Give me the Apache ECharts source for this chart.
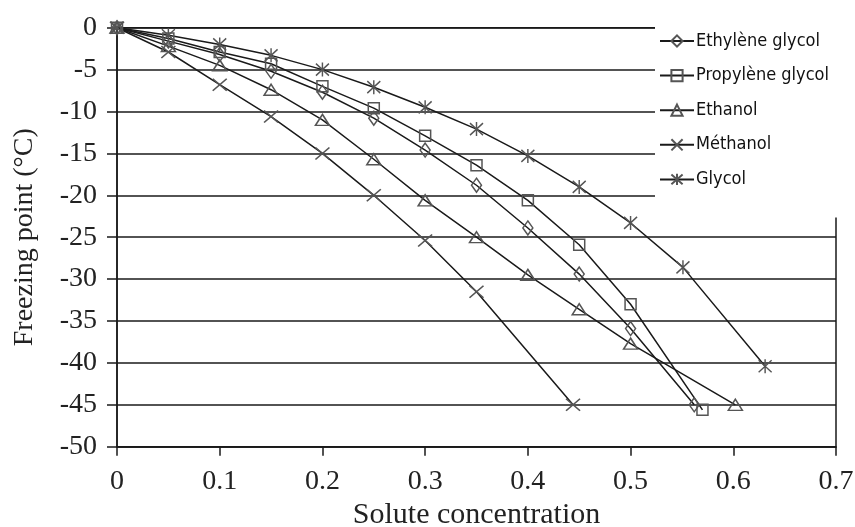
<!DOCTYPE html>
<html>
<head>
<meta charset="utf-8">
<script src="https://cdn.jsdelivr.net/npm/echarts@6/dist/echarts.min.js"></script>
<style>
html,body{margin:0;padding:0;background:#fff;}
#chart{width:855px;height:527px;}
</style>
</head>
<body>
<div id="chart"></div>
<script>
// ---- data ----
var seriesNames = ['Ethylène glycol', 'Propylène glycol', 'Ethanol', 'Méthanol', 'Glycol'];
var xTicks = [0, 0.1, 0.2, 0.3, 0.4, 0.5, 0.6, 0.7];
var yTicks = [0, -5, -10, -15, -20, -25, -30, -35, -40, -45, -50];

var ethyleneX = [0, 0.05, 0.1, 0.15, 0.2, 0.25, 0.3, 0.35, 0.4, 0.45, 0.5, 0.562];
var ethyleneY = [0, -1.6, -3.2, -5.2, -7.7, -10.8, -14.6, -18.8, -23.9, -29.4, -35.9, -45.0];

var propyleneX = [0, 0.05, 0.1, 0.15, 0.2, 0.25, 0.3, 0.35, 0.4, 0.45, 0.5, 0.57];
var propyleneY = [0, -1.3, -2.9, -4.3, -7.0, -9.6, -12.9, -16.4, -20.6, -25.9, -33.0, -45.6];

var ethanolX = [0, 0.05, 0.1, 0.15, 0.2, 0.25, 0.3, 0.35, 0.4, 0.45, 0.5, 0.602];
var ethanolY = [0, -2.2, -4.5, -7.4, -11.0, -15.7, -20.6, -25.0, -29.5, -33.6, -37.7, -45.0];

var methanolX = [0, 0.05, 0.1, 0.15, 0.2, 0.25, 0.3, 0.35, 0.444];
var methanolY = [0, -2.9, -6.8, -10.6, -15.0, -20.0, -25.4, -31.5, -45.0];

var glycolX = [0, 0.05, 0.1, 0.15, 0.2, 0.25, 0.3, 0.35, 0.4, 0.45, 0.5, 0.551, 0.631];
var glycolY = [0, -0.9, -2.0, -3.3, -5.0, -7.1, -9.5, -12.1, -15.3, -19.0, -23.3, -28.6, -40.4];

// ---- build ----
function pairs(xs, ys) { return xs.map(function (x, i) { return [x, ys[i]]; }); }

var serifFont = "'Liberation Serif', 'Times New Roman', serif";
var legendFont = "'Liberation Sans Narrow', 'DejaVu Sans Condensed', 'Liberation Sans', sans-serif";
var markerColor = '#555';
var lineColor = '#1a1a1a';

var symbols = [
  { symbol: 'diamond', size: [10, 14] },
  { symbol: 'rect', size: [11, 11] },
  { symbol: 'triangle', size: [14, 11] },
  { symbol: 'path://M0,0L14,12M14,0L0,12', size: [14, 12] },
  { symbol: 'path://M0,0L12,12M12,0L0,12M6,-1L6,13', size: [13, 14] }
];
var dataSets = [
  pairs(ethyleneX, ethyleneY),
  pairs(propyleneX, propyleneY),
  pairs(ethanolX, ethanolY),
  pairs(methanolX, methanolY),
  pairs(glycolX, glycolY)
];

var series = seriesNames.map(function (name, i) {
  return {
    name: name,
    type: 'line',
    data: dataSets[i],
    symbol: symbols[i].symbol,
    symbolSize: symbols[i].size,
    showAllSymbol: true,
    lineStyle: { color: lineColor, width: 1.5 },
    itemStyle: { color: 'rgba(255,255,255,0)', borderColor: markerColor, borderWidth: 1.5 },
    emphasis: { disabled: true },
    animation: false,
    z: 3
  };
});

var chart = echarts.init(document.getElementById('chart'), null, { renderer: 'canvas' });
chart.setOption({
  backgroundColor: '#fff',
  animation: false,
  grid: {
    left: 117, right: 19, top: 27.7, bottom: 80.3,
    outerBoundsMode: 'none',
    containLabel: false,
    show: true, borderColor: lineColor, borderWidth: 1.5, backgroundColor: 'transparent'
  },
  legend: {
    orient: 'vertical',
    left: 655,
    top: 14,
    padding: [17, 30, 28, 4],
    backgroundColor: '#fff',
    itemWidth: 34,
    itemHeight: 14,
    itemGap: 14.6,
    data: seriesNames,
    textStyle: { fontFamily: legendFont, fontSize: 18, color: '#111', lineHeight: 20, padding: [0, 0, 0, -3] },
    z: 10
  },
  xAxis: {
    type: 'value',
    min: xTicks[0],
    max: xTicks[xTicks.length - 1],
    interval: 0.1,
    name: 'Solute concentration',
    nameLocation: 'middle',
    nameGap: 51,
    nameTextStyle: { fontFamily: serifFont, fontSize: 30, color: '#222' },
    axisLine: { show: true, onZero: false, lineStyle: { color: lineColor, width: 1.5 } },
    axisTick: { show: true, inside: false, length: 9, lineStyle: { color: lineColor, width: 1.5 } },
    axisLabel: {
      fontFamily: serifFont, fontSize: 28, color: '#222', margin: 21,
      formatter: function (v) { return String(+v.toFixed(1)); }
    },
    splitLine: { show: false }
  },
  yAxis: {
    type: 'value',
    min: yTicks[yTicks.length - 1],
    max: yTicks[0],
    interval: 5,
    name: 'Freezing point (°C)',
    nameLocation: 'middle',
    nameGap: 78,
    nameTextStyle: { fontFamily: serifFont, fontSize: 28, color: '#222' },
    axisLine: { show: true, onZero: false, lineStyle: { color: lineColor, width: 1.5 } },
    axisTick: { show: true, inside: false, length: 10, lineStyle: { color: lineColor, width: 1.5 } },
    axisLabel: { fontFamily: serifFont, fontSize: 28, color: '#222', margin: 20 },
    splitLine: { show: true, lineStyle: { color: lineColor, width: 1.5 } }
  },
  series: series
});
</script>
</body>
</html>
